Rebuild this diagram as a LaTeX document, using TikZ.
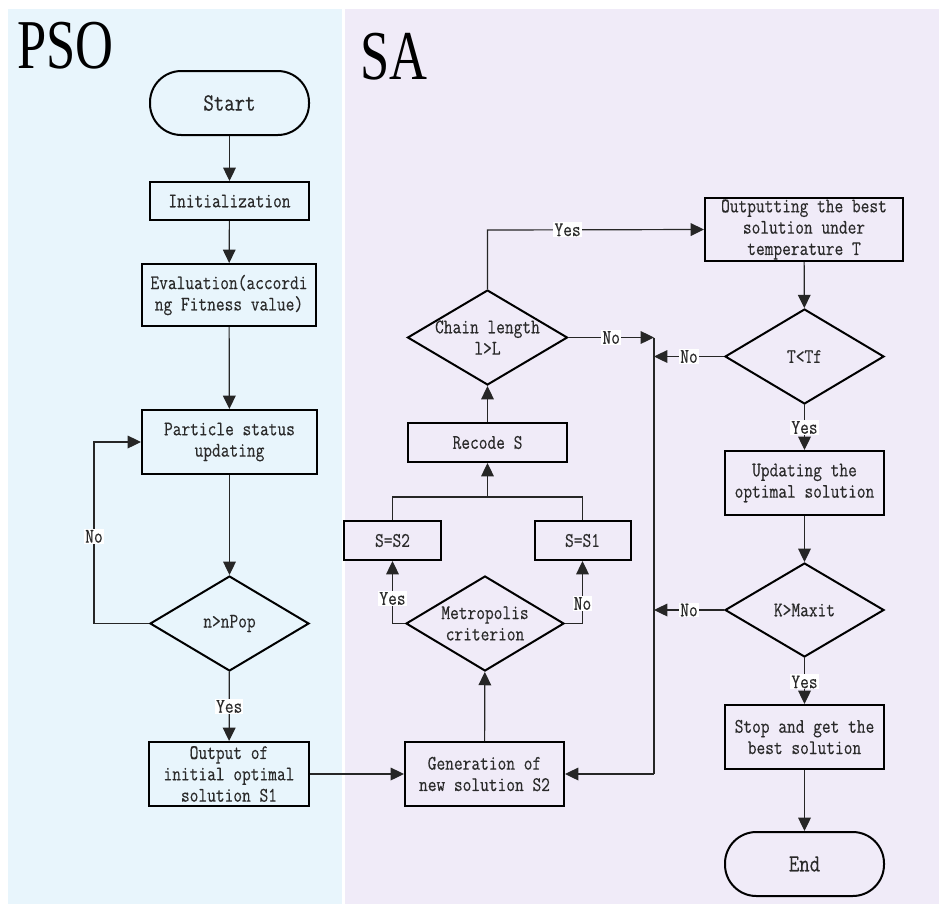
\documentclass[tikz,border=0pt]{standalone}
\usepackage{fontspec}
\usetikzlibrary{arrows.meta,shapes.geometric}
\newfontfamily\titlefont{Liberation Serif}
\newfontfamily\boxfont[FakeStretch=0.82,FakeBold=0.35]{Latin Modern Mono}
\definecolor{psoC}{HTML}{E8F5FC}
\definecolor{saC}{HTML}{F0EBF8}
\definecolor{txtC}{HTML}{2A2A2A}
\begin{document}
\begin{tikzpicture}[x=0.75pt,y=-0.75pt,
  every node/.style={text=txtC},
  bx/.style 2 args={draw=black, line width=1.5pt, inner sep=0pt, align=center,
    font=\fontsize{15.5}{16}\boxfont\selectfont,
    minimum width=#1*0.75pt, minimum height=#2*0.75pt},
  term/.style={rounded corners=23.5pt, font=\fontsize{18.5}{20}\boxfont\selectfont},
  dec/.style 2 args={draw=black, diamond, line width=1.5pt, inner sep=0pt,
    minimum width=#1*0.75pt, minimum height=#2*0.75pt},
  dtxt/.style={inner sep=0pt, align=center, font=\fontsize{15.5}{16}\boxfont\selectfont},
  conn/.style={draw=black!85, line width=0.9pt},
  arr/.style={conn, -{Triangle[length=10pt,width=9.5pt]}},
  lbl/.style={fill=white, inner sep=0.8pt, font=\fontsize{15.5}{15}\boxfont\selectfont},
  title/.style={font=\fontsize{52.5}{60}\titlefont\selectfont, text=black, xscale=0.75, inner sep=0pt, anchor=base west}
]
\useasboundingbox (0,0) rectangle (939,904);
\fill[psoC] (8,9) rectangle (342,904);
\fill[saC] (345,9) rectangle (939,904);

\node[title] (tpso) at (17,68) {PSO};
\node[title] (tsa) at (360,79) {SA};

% PSO column
\node[bx={159}{64}, term] (start) at (229.5,103) {Start};
\node[bx={159}{38}] (init) at (229.5,201) {Initialization};
\node[bx={174}{62}] (eval) at (229,295) {Evaluation(accordi\\ng Fitness value)};
\node[bx={175}{64}] (part) at (229.5,442) {Particle status\\updating};
\node[dec={159}{95}] (npop) at (229.5,623.5) {};
\node[dtxt] (npopt) at (npop) {n>nPop};
\node[bx={160}{64}] (out) at (229,774) {Output of\\initial optimal\\solution S1};

% SA middle column
\node[bx={159}{64}] (gen) at (484.5,774) {Generation of\\new solution S2};
\node[dec={158}{95}] (metro) at (485,623.5) {};
\node[dtxt] (metrot) at (metro) {Metropolis\\criterion};
\node[bx={97}{39}] (s2) at (392.5,540.5) {S=S2};
\node[bx={96}{39}] (s1) at (582.5,540.5) {S=S1};
\node[bx={159}{39}] (recode) at (487.5,442.5) {Recode S};
\node[dec={160}{95}] (chain) at (487.5,337.5) {};
\node[dtxt] (chaint) at (chain) {Chain length\\l>L};

% SA right column
\node[bx={198}{63}] (outT) at (804,229.5) {Outputting the best\\solution under\\temperature T};
\node[dec={159}{95}] (ttf) at (804.5,356.5) {};
\node[dtxt] (ttft) at (ttf) {T<Tf};
\node[bx={159}{64}] (upd) at (804.5,483) {Updating the\\optimal solution};
\node[dec={159}{94}] (kmax) at (804.5,610) {};
\node[dtxt] (kmaxt) at (kmax) {K>Maxit};
\node[bx={159}{64}] (stop) at (804.5,737) {Stop and get the\\best solution};
\node[bx={159}{64}, term] (end) at (804.5,864) {End};

% coordinates
\coordinate (loopA) at (94,623.5);
\coordinate (loopB) at (94,442);
\coordinate (join) at (487.5,497);
\coordinate (s2j) at (392.5,497);
\coordinate (s1j) at (582.5,497);
\coordinate (yesC) at (487.5,230);
\coordinate (busT) at (654,337.5);
\coordinate (busM1) at (654,356.5);
\coordinate (busM2) at (654,610);
\coordinate (busB) at (654,774);

% PSO connectors
\draw[arr] (start) -- (init);
\draw[arr] (init) -- (eval);
\draw[arr] (eval) -- (part);
\draw[arr] (part) -- (npop);
\draw[arr] (npop) -- node[lbl] (ly1) {Yes} (out);
\draw[arr] (npop.west) -- (loopA) -- node[lbl, pos=0.48] (ln1) {No} (loopB) -- (part.west);
\draw[arr] (out) -- (gen);

% SA middle connectors
\draw[arr] (gen) -- (metro);
\draw[arr] (metro.west) -| node[lbl, pos=0.7] (ly2) {Yes} (s2.south);
\draw[arr] (metro.east) -| node[lbl, pos=0.66] (ln2) {No} (s1.south);
\draw[conn] (s2.north) -- (s2j) -- (s1j) -- (s1.north);
\draw[arr] (join) -- (recode);
\draw[arr] (recode) -- (chain);
\draw[arr] (chain.north) -- (yesC) -- node[lbl, pos=0.37] (ly3) {Yes} (outT.west);
\draw[arr] (chain.east) -- node[lbl, pos=0.5] (ln3) {No} (busT);
\draw[conn] (busT) -- (busB);
\draw[arr] (busB) -- (gen.east);

% SA right connectors
\draw[arr] (outT) -- (ttf);
\draw[arr] (ttf.west) -- node[lbl, pos=0.5] (ln4) {No} (busM1);
\draw[arr] (ttf) -- node[lbl, pos=0.5] (ly4) {Yes} (upd);
\draw[arr] (upd) -- (kmax);
\draw[arr] (kmax.west) -- node[lbl, pos=0.5] (ln5) {No} (busM2);
\draw[arr] (kmax) -- node[lbl, pos=0.52] (ly5) {Yes} (stop);
\draw[arr] (stop) -- (end);
\end{tikzpicture}
\end{document}
